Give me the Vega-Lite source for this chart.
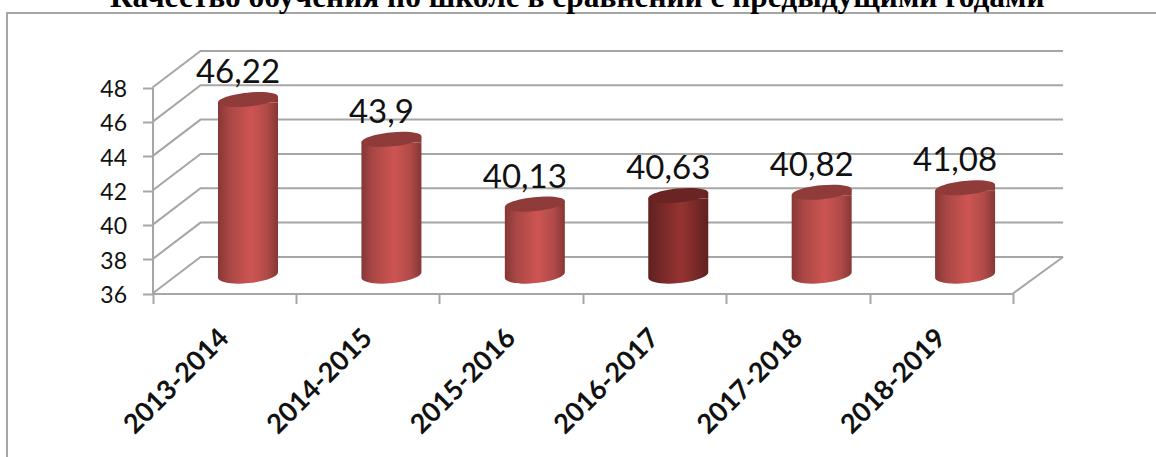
{"$schema":"https://vega.github.io/schema/vega-lite/v6.json","width":1155,"height":450,"autosize":"none","padding":{"left":7,"top":13,"right":0,"bottom":0},"background":"white","view":{"stroke":"#a6a6a6","strokeWidth":2,"fill":"white"},"title":{"text":"Качество обучения по школе в сравнении с предыдущими годами","font":"Liberation Serif","fontWeight":"bold","fontSize":31.4,"color":"#000000","anchor":"start","dx":113,"offset":0},"datasets":{"bars":[{"period":"2013-2014","value":46.22,"label":"46,22"},{"period":"2014-2015","value":43.9,"label":"43,9"},{"period":"2015-2016","value":40.13,"label":"40,13"},{"period":"2016-2017","value":40.63,"label":"40,63"},{"period":"2017-2018","value":40.82,"label":"40,82"},{"period":"2018-2019","value":41.08,"label":"41,08"}],"wall":[{"line":"36","x":0,"y":36},{"line":"36","x":0.335,"y":38.13},{"line":"36","x":6.349,"y":38.13},{"line":"38","x":0,"y":38},{"line":"38","x":0.335,"y":40.13},{"line":"38","x":6.349,"y":40.13},{"line":"40","x":0,"y":40},{"line":"40","x":0.335,"y":42.13},{"line":"40","x":6.349,"y":42.13},{"line":"42","x":0,"y":42},{"line":"42","x":0.335,"y":44.13},{"line":"42","x":6.349,"y":44.13},{"line":"44","x":0,"y":44},{"line":"44","x":0.335,"y":46.13},{"line":"44","x":6.349,"y":46.13},{"line":"46","x":0,"y":46},{"line":"46","x":0.335,"y":48.13},{"line":"46","x":6.349,"y":48.13},{"line":"48","x":0,"y":48},{"line":"48","x":0.335,"y":50.13},{"line":"48","x":6.349,"y":50.13},{"line":"floor","x":6,"y":36},{"line":"floor","x":6.349,"y":38.13}]},"resolve":{"scale":{"x":"independent"},"axis":{"x":"independent"}},"layer":[{"data":{"name":"wall"},"mark":{"type":"line","color":"#a6a6a6","strokeWidth":2,"clip":false},"encoding":{"x":{"field":"x","type":"quantitative","axis":null,"scale":{"domain":[0,6],"range":[145.5,1006],"nice":false,"zero":false}},"y":{"field":"y","type":"quantitative","scale":{"domain":[36,48],"range":[280.5,74.5],"nice":false,"zero":false},"axis":{"title":null,"values":[36,38,40,42,44,46,48],"offset":-145.5,"grid":false,"domainColor":"#a6a6a6","domainWidth":2,"tickColor":"#a6a6a6","tickWidth":2,"tickSize":10,"labelFont":"Lato","labelFontSize":23,"labelColor":"#111111","labelPadding":16,"labelOffset":2}},"detail":{"field":"line"}}},{"data":{"name":"bars"},"encoding":{"x":{"field":"period","type":"nominal","sort":["2013-2014","2014-2015","2015-2016","2016-2017","2017-2018","2018-2019"],"scale":{"domain":["2013-2014","2014-2015","2015-2016","2016-2017","2017-2018","2018-2019"],"range":[145.5,1006],"paddingInner":0,"paddingOuter":0},"axis":{"title":null,"orient":"bottom","offset":-169.5,"tickBand":"extent","labelAngle":-45,"labelFont":"Lato","labelFontWeight":"bold","labelFontSize":27,"labelColor":"#111111","labelPadding":30,"labelAlign":"right","labelBaseline":"middle","labelOverlap":false,"domainColor":"#a6a6a6","domainWidth":2,"tickColor":"#a6a6a6","tickWidth":2,"tickSize":10}}},"layer":[{"transform":[{"filter":"datum.period !== '2016-2017'"}],"layer":[{"mark":{"type":"bar","width":60,"xOffset":23.8,"yOffset":-15.5,"y2Offset":-21.5,"color":{"gradient":"linear","x1":0,"y1":0,"x2":1,"y2":0,"stops":[{"offset":0,"color":"#853735"},{"offset":0.18,"color":"#a84644"},{"offset":0.55,"color":"#cd5553"},{"offset":0.82,"color":"#b04a48"},{"offset":1,"color":"#853735"}]}},"encoding":{"y":{"field":"value","type":"quantitative"},"y2":{"datum":36}}},{"mark":{"type":"point","filled":true,"opacity":1,"size":3600,"xOffset":23.8,"yOffset":-18.5,"shape":"M-1,.1 L1,-.1 L1,.1 Z","color":{"gradient":"linear","x1":0,"y1":0,"x2":1,"y2":0,"stops":[{"offset":0,"color":"#853735"},{"offset":0.55,"color":"#cd5553"},{"offset":1,"color":"#853735"}]}},"encoding":{"y":{"field":"value","type":"quantitative"}}},{"mark":{"type":"point","filled":true,"opacity":1,"size":3600,"xOffset":23.8,"yOffset":-18.5,"shape":"M-1,-.1 L1,-.1 A1,.27 -5.7 1,1 -1,.1 Z","color":{"gradient":"linear","x1":0,"y1":0,"x2":1,"y2":0,"stops":[{"offset":0,"color":"#853735"},{"offset":0.18,"color":"#a84644"},{"offset":0.55,"color":"#cd5553"},{"offset":0.82,"color":"#b04a48"},{"offset":1,"color":"#853735"}]}},"encoding":{"y":{"datum":36}}},{"mark":{"type":"point","filled":true,"opacity":1,"size":3600,"xOffset":23.8,"yOffset":-18.5,"shape":"M-1,.1 A1,.23 -5.7 1,1 1,-.1 A1,.23 -5.7 1,1 -1,.1 Z","color":"#8e3b3a"},"encoding":{"y":{"field":"value","type":"quantitative"}}}]},{"transform":[{"filter":"datum.period === '2016-2017'"}],"layer":[{"mark":{"type":"bar","width":60,"xOffset":23.8,"yOffset":-15.5,"y2Offset":-21.5,"color":{"gradient":"linear","x1":0,"y1":0,"x2":1,"y2":0,"stops":[{"offset":0,"color":"#5f2120"},{"offset":0.55,"color":"#963332"},{"offset":1,"color":"#5f2120"}]}},"encoding":{"y":{"field":"value","type":"quantitative"},"y2":{"datum":36}}},{"mark":{"type":"point","filled":true,"opacity":1,"size":3600,"xOffset":23.8,"yOffset":-18.5,"shape":"M-1,.1 L1,-.1 L1,.1 Z","color":{"gradient":"linear","x1":0,"y1":0,"x2":1,"y2":0,"stops":[{"offset":0,"color":"#5f2120"},{"offset":0.55,"color":"#963332"},{"offset":1,"color":"#5f2120"}]}},"encoding":{"y":{"field":"value","type":"quantitative"}}},{"mark":{"type":"point","filled":true,"opacity":1,"size":3600,"xOffset":23.8,"yOffset":-18.5,"shape":"M-1,-.1 L1,-.1 A1,.27 -5.7 1,1 -1,.1 Z","color":{"gradient":"linear","x1":0,"y1":0,"x2":1,"y2":0,"stops":[{"offset":0,"color":"#5f2120"},{"offset":0.55,"color":"#963332"},{"offset":1,"color":"#5f2120"}]}},"encoding":{"y":{"datum":36}}},{"mark":{"type":"point","filled":true,"opacity":1,"size":3600,"xOffset":23.8,"yOffset":-18.5,"shape":"M-1,.1 A1,.23 -5.7 1,1 1,-.1 A1,.23 -5.7 1,1 -1,.1 Z","color":"#6a2423"},"encoding":{"y":{"field":"value","type":"quantitative"}}}]},{"mark":{"type":"text","font":"Lato","fontSize":33,"color":"#111111","align":"center","baseline":"alphabetic","xOffset":13.8,"yOffset":-35},"encoding":{"y":{"field":"value","type":"quantitative"},"text":{"field":"label"}}}]}]}
